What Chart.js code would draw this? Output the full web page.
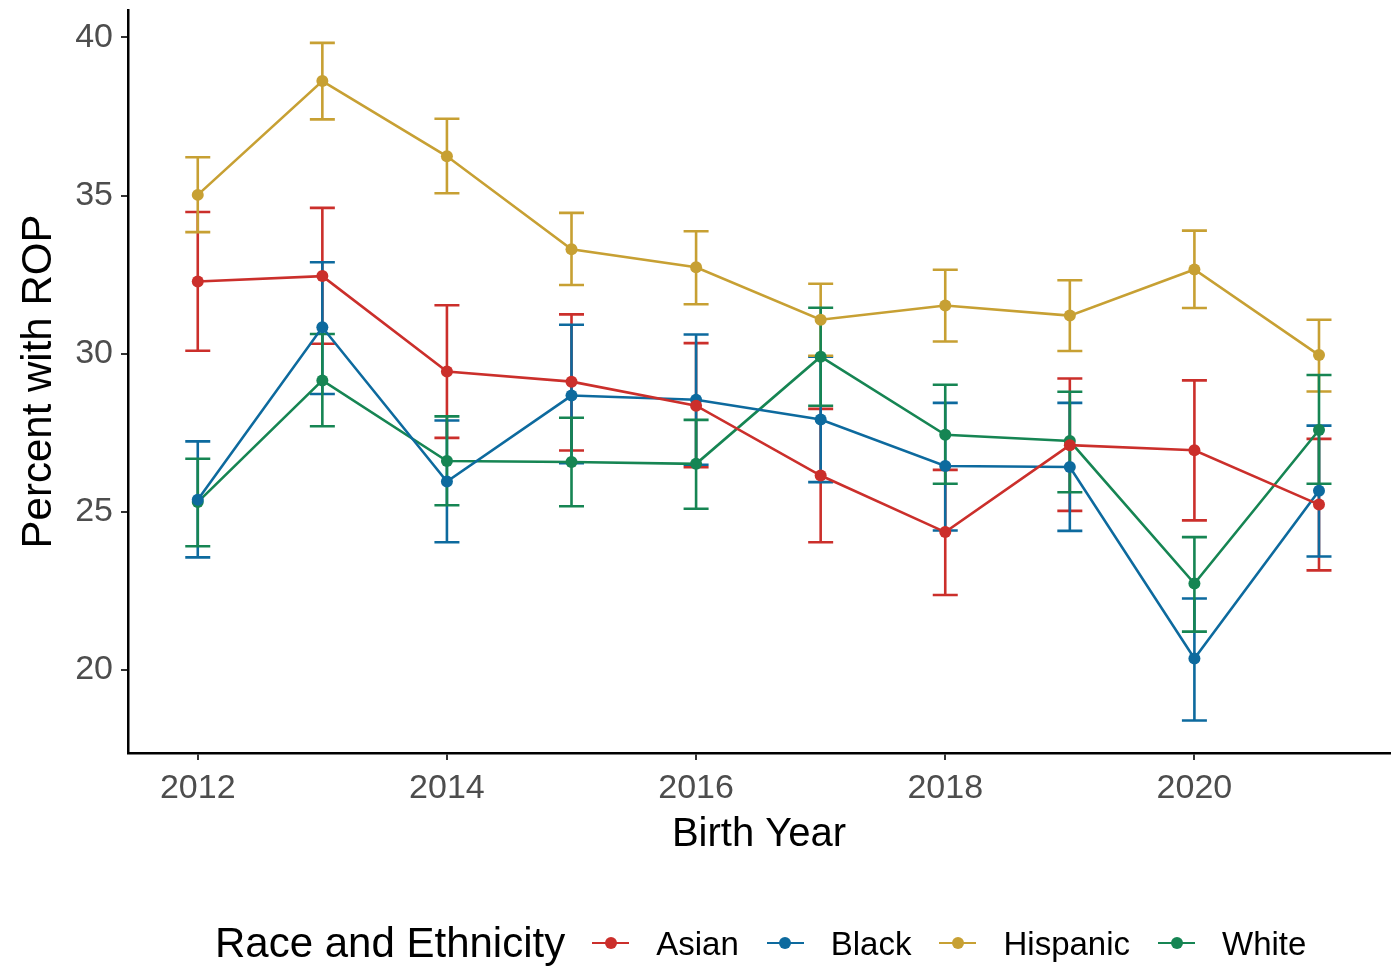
<!DOCTYPE html>
<html>
<head>
<meta charset="utf-8">
<script src="https://cdn.jsdelivr.net/npm/chart.js@4.4.1/dist/chart.umd.min.js"></script>
<style>
  html, body { margin: 0; padding: 0; background: #fff; }
  #wrap { position: relative; width: 1396px; height: 973px; }
  #legend {
    position: absolute; left: 215px; top: 915px; height: 56px;
    display: flex; align-items: center;
    font-family: 'Liberation Sans', Arial, sans-serif; color: #000;
  }
  #legend .title { font-size: 42px; line-height: 1; margin-right: 27px; }
  #legend .item { display: flex; align-items: center; margin-right: 28px; }
  #legend .key { position: relative; width: 37px; height: 12px; margin-right: 27px; }
  #legend .key .ln { position: absolute; left: 0; right: 0; top: 4.7px; height: 2.6px; }
  #legend .key .dot { position: absolute; left: 12.5px; top: 0; width: 12px; height: 12px; border-radius: 50%; }
  #legend .lbl { font-size: 33px; line-height: 1; }
</style>
</head>
<body>
<div id="wrap">
  <canvas id="rop" width="1396" height="973"></canvas>
  <div id="legend"></div>
</div>
<script>
// birth years and axis ticks
const years = [2012, 2013, 2014, 2015, 2016, 2017, 2018, 2019, 2020, 2021];
const xTicks = [2012, 2014, 2016, 2018, 2020];
const yTicks = [20, 25, 30, 35, 40];

const groupNames = ['Asian', 'Black', 'Hispanic', 'White'];
const groupColors = ['#CB2F2B', '#0D6A9E', '#C7A033', '#168553'];

// percent with ROP, with lower / upper error bar ends
const asianPct  = [32.28, 32.45, 29.43, 29.11, 28.35, 26.14, 24.35, 27.10, 26.94, 25.22];
const asianLow  = [30.09, 30.31, 27.33, 26.93, 26.40, 24.03, 22.36, 25.02, 24.72, 23.14];
const asianHigh = [34.48, 34.61, 31.53, 31.24, 30.33, 28.25, 26.32, 29.21, 29.15, 27.30];

const blackPct  = [25.37, 30.83, 25.95, 28.67, 28.54, 27.91, 26.44, 26.41, 20.35, 25.66];
const blackLow  = [23.55, 28.72, 24.03, 26.53, 26.48, 25.93, 24.40, 24.39, 18.39, 23.58];
const blackHigh = [27.22, 32.89, 27.88, 30.91, 30.60, 29.90, 28.44, 28.44, 22.25, 27.72];

const hispPct   = [35.02, 38.62, 36.24, 33.30, 32.73, 31.07, 31.52, 31.20, 32.66, 29.95];
const hispLow   = [33.84, 37.41, 35.07, 32.17, 31.56, 29.93, 30.38, 30.08, 31.44, 28.80];
const hispHigh  = [36.21, 39.83, 37.43, 34.45, 33.87, 32.21, 32.65, 32.32, 33.89, 31.07];

const whitePct  = [25.30, 29.15, 26.60, 26.57, 26.51, 29.90, 27.43, 27.23, 22.72, 27.58];
const whiteLow  = [23.90, 27.70, 25.20, 25.17, 25.09, 28.35, 25.88, 25.61, 21.20, 25.88];
const whiteHigh = [26.67, 30.62, 28.01, 27.97, 27.90, 31.45, 29.01, 28.79, 24.19, 29.32];

const pctSets  = [asianPct, blackPct, hispPct, whitePct];
const lowSets  = [asianLow, blackLow, hispLow, whiteLow];
const highSets = [asianHigh, blackHigh, hispHigh, whiteHigh];

Chart.defaults.font.family = "'Liberation Sans', Arial, sans-serif";

// vertical error bars with caps, drawn under the lines and points
const errorBars = {
  id: 'errorBars',
  beforeDatasetsDraw(chart) {
    const { ctx, scales: { x, y } } = chart;
    ctx.save();
    ctx.lineWidth = 2.6;
    chart.data.datasets.forEach(ds => {
      ctx.strokeStyle = ds.borderColor;
      ds.errLow.forEach((lo, i) => {
        const px = x.getPixelForValue(years[i]);
        const top = y.getPixelForValue(ds.errHigh[i]);
        const bot = y.getPixelForValue(lo);
        ctx.beginPath();
        ctx.moveTo(px, top); ctx.lineTo(px, bot);
        ctx.moveTo(px - 12.5, top); ctx.lineTo(px + 12.5, top);
        ctx.moveTo(px - 12.5, bot); ctx.lineTo(px + 12.5, bot);
        ctx.stroke();
      });
    });
    ctx.restore();
  }
};

const datasets = groupNames.map((name, k) => ({
  label: name,
  data: years.map((yr, i) => ({ x: yr, y: pctSets[k][i] })),
  errLow: lowSets[k],
  errHigh: highSets[k],
  borderColor: groupColors[k],
  backgroundColor: groupColors[k],
  borderWidth: 2.6,
  pointRadius: 6,
  pointBorderWidth: 0,
  tension: 0
}));

new Chart(document.getElementById('rop').getContext('2d'), {
  type: 'line',
  data: { datasets },
  options: {
    responsive: false,
    animation: false,
    devicePixelRatio: 1,
    layout: { padding: { left: 14, right: 4, top: 10, bottom: 114 } },
    plugins: { legend: { display: false }, tooltip: { enabled: false } },
    scales: {
      x: {
        type: 'linear',
        min: 2011.44,
        max: 2021.57,
        afterBuildTicks: s => { s.ticks = xTicks.map(v => ({ value: v })); },
        afterFit: s => { s.height = 106; s.paddingLeft = 0; s.paddingRight = 0; },
        ticks: { color: '#4D4D4D', font: { size: 34 }, padding: 8, callback: v => String(v) },
        grid: { drawOnChartArea: false, drawTicks: true, tickLength: 7, color: '#333', lineWidth: 2 },
        border: { display: true, color: '#000', width: 2.5 },
        title: { display: true, text: 'Birth Year', color: '#000', font: { size: 40 }, padding: 0 }
      },
      y: {
        min: 17.36,
        max: 40.87,
        afterBuildTicks: s => { s.ticks = yTicks.map(v => ({ value: v })); },
        afterFit: s => { s.width = 114; s.paddingTop = 0; s.paddingBottom = 0; },
        ticks: { color: '#4D4D4D', font: { size: 34 }, padding: 8 },
        grid: { drawOnChartArea: false, drawTicks: true, tickLength: 7, color: '#333', lineWidth: 2 },
        border: { display: true, color: '#000', width: 2.5 },
        title: { display: true, text: 'Percent with ROP', color: '#000', font: { size: 42 }, padding: 0 }
      }
    }
  },
  plugins: [errorBars]
});

// legend row: title followed by the four groups
const legend = document.getElementById('legend');
legend.innerHTML = '<span class="title">Race and Ethnicity</span>' +
  groupNames.map((name, k) =>
    '<span class="item"><span class="key"><span class="ln" style="background:' + groupColors[k] +
    '"></span><span class="dot" style="background:' + groupColors[k] + '"></span></span>' +
    '<span class="lbl">' + name + '</span></span>').join('');
</script>
</body>
</html>
